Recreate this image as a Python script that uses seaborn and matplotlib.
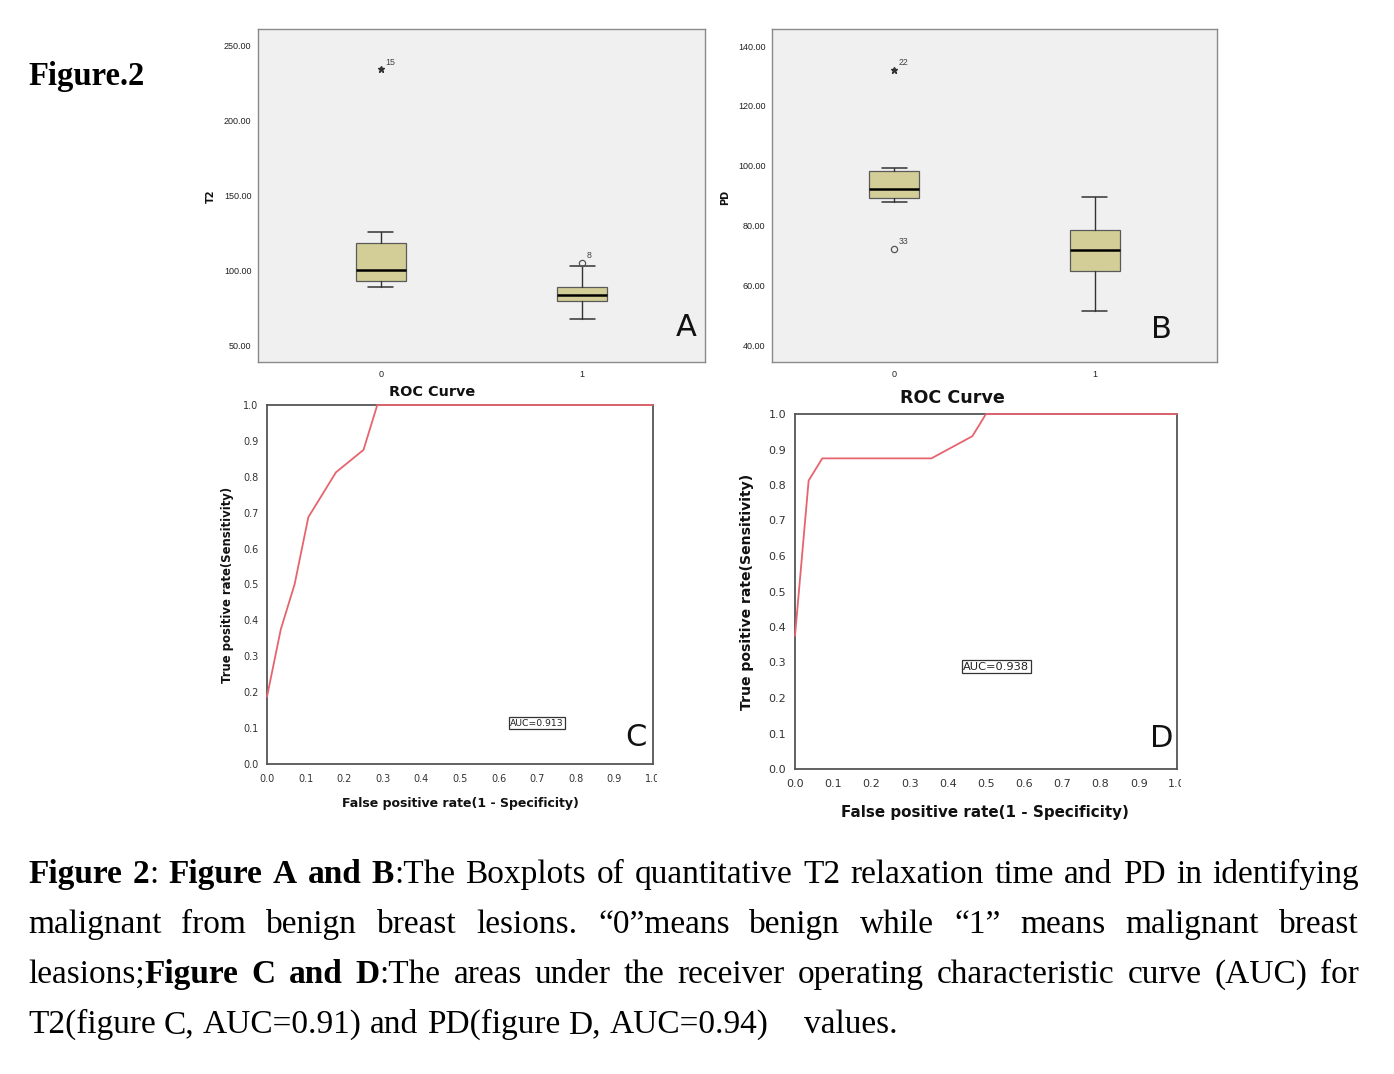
import numpy as np
import pandas as pd
import matplotlib
matplotlib.use("Agg")
import matplotlib.pyplot as plt
import seaborn as sns
from matplotlib.transforms import Bbox, TransformedBbox

W, H = 1394, 1074

# boxplot groups: 0 = benign, 1 = malignant
groups = [0, 1]
group_labels = ["0", "1"]

# panel A: T2 boxplot summary
t2_whislo = [89.0, 68.0]
t2_q1 = [93.5, 80.0]
t2_med = [100.7, 84.2]
t2_q3 = [118.5, 89.6]
t2_whishi = [126.0, 103.3]
t2_yticks = [50, 100, 150, 200, 250]
# outliers: value, group, case number, SPSS marker (* extreme, o outlier)
t2_out_val = [234.4, 105.3]
t2_out_grp = [0, 1]
t2_out_id = ["15", "8"]
t2_out_mark = ["*", "o"]

# panel B: PD boxplot summary
pd_whislo = [87.8, 51.4]
pd_q1 = [89.1, 64.7]
pd_med = [92.2, 71.7]
pd_q3 = [98.4, 78.6]
pd_whishi = [99.4, 89.7]
pd_yticks = [40, 60, 80, 100, 120, 140]
pd_out_val = [132.0, 72.3]
pd_out_grp = [0, 0]
pd_out_id = ["22", "33"]
pd_out_mark = ["*", "o"]

# panels C and D: ROC curves (visible part, starting on the y axis)
roc_ticks = [0.0, 0.1, 0.2, 0.3, 0.4, 0.5, 0.6, 0.7, 0.8, 0.9, 1.0]
t2_fpr = [0.0, 0.0357, 0.0714, 0.1071, 0.1786, 0.25, 0.2857, 1.0]
t2_tpr = [0.1875, 0.375, 0.5, 0.6875, 0.8125, 0.875, 1.0, 1.0]
pd_fpr = [0.0, 0.0357, 0.0714, 0.3571, 0.4643, 0.5, 1.0]
pd_tpr = [0.375, 0.8125, 0.875, 0.875, 0.9375, 1.0, 1.0]
t2_auc = "AUC=0.913"
pd_auc = "AUC=0.938"

caption = [
    "**Figure 2**: **Figure A and B**:The Boxplots of quantitative T2 relaxation time and PD in identifying",
    "malignant from benign breast lesions. \u201c0\u201dmeans benign while \u201c1\u201d means malignant breast",
    "leasions;**Figure C and D**:The areas under the receiver operating characteristic curve (AUC) for",
]
caption_last = "T2(figure C, AUC=0.91) and PD(figure D, AUC=0.94)"
caption_end = "values."

BOX_FILL = "#d3ce97"
ROC_RED = "#e5646e"
CAP_PT = 24.0
SANS = "DejaVu Sans"


def fx(x):
    return x / W


def fy(y):
    return 1 - y / H


def rect(l, t, r, b):
    return [fx(l), fy(b), (r - l) / W, (b - t) / H]


def draw_box(ax, lo, q1, med, q3, hi, out_val, out_grp, out_id, out_mark, yticks, ylim):
    stats = [dict(whislo=a, q1=b, med=c, q3=d, whishi=e, fliers=[])
             for a, b, c, d, e in zip(lo, q1, med, q3, hi)]
    ax.bxp(stats, positions=groups, widths=0.25, capwidths=0.123, patch_artist=True,
           showfliers=False,
           boxprops=dict(facecolor=BOX_FILL, edgecolor="#5a5a5a", linewidth=0.9),
           medianprops=dict(color="black", linewidth=1.8),
           whiskerprops=dict(color="#333333", linewidth=1.0),
           capprops=dict(color="#333333", linewidth=1.1))
    for v, g, i, m in zip(out_val, out_grp, out_id, out_mark):
        if m == "*":
            ax.plot(g, v, marker="*", ms=5, color="#333333", ls="none")
        else:
            ax.plot(g, v, marker="o", ms=4.5, mfc="none", mec="#555555", mew=0.9, ls="none")
        ax.annotate(i, (g, v), xytext=(3, 2), textcoords="offset points", fontsize=6.3,
                    color="#444444", ha="left", va="bottom", family="Liberation Sans")
    ax.set_facecolor("#f0f0f0")
    ax.set_xlim(-0.61, 1.61)
    ax.set_ylim(*ylim)
    ax.set_xticks(groups, group_labels)
    ax.set_yticks(yticks, [f"{v:.2f}" for v in yticks])
    for lab in ax.get_xticklabels() + ax.get_yticklabels():
        lab.set_family("Liberation Sans")
    ax.tick_params(axis="both", labelsize=6.5, colors="#444444", labelcolor="#222222",
                   width=0.9, direction="out")
    ax.tick_params(axis="y", length=4.3, pad=0.5)
    ax.tick_params(axis="x", length=3, pad=2.5)
    for s in ax.spines.values():
        s.set_color("#8a8a8a")
        s.set_linewidth(1.0)
    ax.set_xlabel("")
    ax.set_ylabel("")


def draw_roc(ax, fpr, tpr, auc_txt, auc_xy, tick_pt, auc_pt, clip_x):
    sns.lineplot(x=fpr, y=tpr, ax=ax, sort=False, estimator=None, color=ROC_RED,
                 linewidth=1.3, zorder=4, clip_on=False)
    ax.set_xlim(0, 1)
    ax.set_ylim(0, 1)
    ax.set_facecolor("white")
    ax.set_xticks(roc_ticks, [f"{v:.1f}" for v in roc_ticks])
    ax.set_yticks(roc_ticks, [f"{v:.1f}" for v in roc_ticks])
    ax.tick_params(axis="both", labelsize=tick_pt, colors="#555555", labelcolor="#333333",
                   width=1.0, direction="out")
    ax.tick_params(axis="y", length=5.8, pad=0.5)
    ax.tick_params(axis="x", length=4, pad=3)
    for s in ax.spines.values():
        s.set_color("#555555")
        s.set_linewidth(1.3)
    # the last x label is cut off in the original figure
    lab = ax.get_xticklabels()[-1]
    lab.set_clip_box(TransformedBbox(Bbox([[0, 0], [fx(clip_x), 1]]), fig.transFigure))
    lab.set_clip_on(True)
    ax.text(auc_xy[0], auc_xy[1], auc_txt, fontsize=auc_pt, ha="center", va="center",
            color="#222222",
            bbox=dict(boxstyle="square,pad=0.12", fc="white", ec="#333333", lw=0.9))
    ax.set_xlabel("")
    ax.set_ylabel("")


def caption_line(text, x0, y, x1=None):
    chars = []
    for k, seg in enumerate(text.split("**")):
        chars += [(ch, k % 2 == 1) for ch in seg]
    words, cur = [], []
    for ch, bold in chars + [(" ", False)]:
        if ch == " ":
            if cur:
                words.append(cur)
                cur = []
            continue
        if cur and cur[-1][1] == bold:
            cur[-1][0] += ch
        else:
            cur.append([ch, bold])
    rend = fig.canvas.get_renderer()
    placed = []
    for w in words:
        runs = []
        for s, bold in w:
            t = fig.text(0, 0, s, fontsize=CAP_PT, fontweight="bold" if bold else "normal",
                         family="Liberation Serif", va="baseline", ha="left", color="black")
            runs.append((t, t.get_window_extent(rend).width))
        placed.append(runs)
    widths = [sum(wd for _, wd in runs) for runs in placed]
    if x1 is None:
        gap = CAP_PT * 100 / 72 * 0.25
    else:
        gap = (x1 - x0 - sum(widths)) / (len(words) - 1)
    x = x0
    for runs, wd in zip(placed, widths):
        xx = x
        for t, w in runs:
            t.set_position((fx(xx), fy(y)))
            xx += w
        x += wd + gap


sns.set_style("white")
plt.rcParams["font.family"] = ["DejaVu Sans"]
plt.rcParams["text.color"] = "black"

fig = plt.figure(figsize=(W / 100, H / 100), dpi=100)
fig.patch.set_facecolor("white")

axA = fig.add_axes(rect(258, 29, 705, 362))
axB = fig.add_axes(rect(772, 29, 1217, 362))
axC = fig.add_axes(rect(267, 405, 653, 764))
axD = fig.add_axes(rect(795, 414, 1177, 769))

draw_box(axA, t2_whislo, t2_q1, t2_med, t2_q3, t2_whishi, t2_out_val, t2_out_grp,
         t2_out_id, t2_out_mark, t2_yticks, (39.3, 261.3))
draw_box(axB, pd_whislo, pd_q1, pd_med, pd_q3, pd_whishi, pd_out_val, pd_out_grp,
         pd_out_id, pd_out_mark, pd_yticks, (34.4, 145.7))
draw_roc(axC, t2_fpr, t2_tpr, t2_auc, (0.70, 0.114), 7.0, 6.7, 657)
draw_roc(axD, pd_fpr, pd_tpr, pd_auc, (0.527, 0.288), 8.0, 8.2, 1181)

# axis titles placed where the original has them
fig.text(fx(211), fy(196), "T2", rotation=90, fontsize=7, fontweight="bold",
         ha="center", va="center", family=SANS, color="#111111")
fig.text(fx(725), fy(197), "PD", rotation=90, fontsize=7, fontweight="bold",
         ha="center", va="center", family=SANS, color="#111111")
fig.text(fx(432), fy(392), "ROC Curve", fontsize=10.4, fontweight="bold",
         ha="center", va="center", family=SANS, color="#111111")
fig.text(fx(952), fy(398), "ROC Curve", fontsize=12.6, fontweight="bold",
         ha="center", va="center", family=SANS, color="#111111")
fig.text(fx(227), fy(585), "True positive rate(Sensitivity)", rotation=90, fontsize=8.4,
         fontweight="bold", ha="center", va="center", family=SANS, color="#111111")
fig.text(fx(747), fy(592), "True positive rate(Sensitivity)", rotation=90, fontsize=10.1,
         fontweight="bold", ha="center", va="center", family=SANS, color="#111111")
fig.text(fx(460), fy(803), "False positive rate(1 - Specificity)", fontsize=9.0,
         fontweight="bold", ha="center", va="center", family=SANS, color="#111111")
fig.text(fx(985), fy(812), "False positive rate(1 - Specificity)", fontsize=10.9,
         fontweight="bold", ha="center", va="center", family=SANS, color="#111111")

# panel letters
for letter, x, y in [("A", 686, 336), ("B", 1161, 338), ("C", 636, 746), ("D", 1162, 747)]:
    fig.text(fx(x), fy(y), letter, fontsize=22, ha="center", va="baseline",
             family=SANS, color="#111111")

fig.text(fx(28), fy(85), "Figure.2", fontsize=23.5, fontweight="bold",
         family="Liberation Serif", ha="left", va="baseline", color="black")

for k, line in enumerate(caption):
    caption_line(line, 28, 883 + 50 * k, 1359)
caption_line(caption_last, 28, 1033)
fig.text(fx(898), fy(1033), caption_end, fontsize=CAP_PT, family="Liberation Serif",
         ha="right", va="baseline", color="black")

fig.savefig("out.png", dpi=100)
plt.close(fig)
